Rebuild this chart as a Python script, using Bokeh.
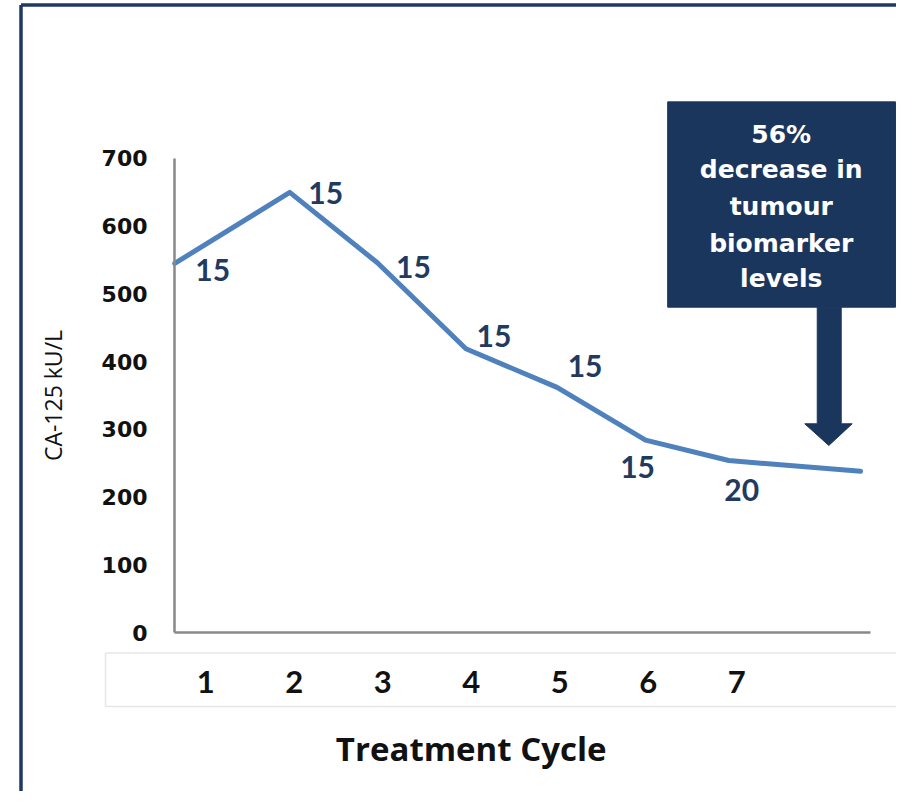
from bokeh.plotting import figure
from bokeh.models import Range1d, FixedTicker
from bokeh.core.properties import value
from bokeh.embed import file_html
from bokeh.resources import INLINE

# ---- data ----
cycle_ticks = [1, 2, 3, 4, 5, 6, 7]
cycle_tick_labels = ["1", "2", "3", "4", "5", "6", "7"]
cycle_pos = [0.65, 1.95, 2.94, 3.94, 4.97, 5.97, 6.91, 8.40]
ca125 = [545, 650, 546, 419, 362, 284, 254, 238]
dose_labels = ["15", "15", "15", "15", "15", "15", "20"]
y_ticks = [0, 100, 200, 300, 400, 500, 600, 700]

# ---- layout / style ----
label_dx = [38, 36, 36, 28, 28, -8, 13]
label_dy = [7, 1, 4, -13, -21, 27, 29]

callout_lines = ["56%", "decrease in", "tumour", "biomarker", "levels"]
callout_box = dict(left=6.22, right=8.794, bottom=480.4, top=783.6)
arrow_xs = [7.910, 8.181, 8.181, 8.305, 8.041, 7.769, 7.910]
arrow_ys = [480.4, 480.4, 308.2, 308.2, 276.2, 308.2, 308.2]
callout_text_x = 7.503
callout_text_y = [735.0, 683.3, 629.1, 574.0, 522.4]

NAVY = "#1B365D"
LABEL_NAVY = "#213A5E"
LINE_BLUE = "#4F81BD"
AXIS_GREY = "#888888"

X_AXIS_START = 0.6475
X_AXIS_END = 8.512

p = figure(width=896, height=791,
           x_range=Range1d(-1.3186, 8.8056), y_range=Range1d(-234.8, 933.3),
           output_backend="svg", toolbar_location=None,
           min_border=0, min_border_left=0, min_border_right=0,
           min_border_top=0, min_border_bottom=0)
p.outline_line_color = None
p.grid.visible = False
p.background_fill_color = "white"
p.border_fill_color = "white"

# y axis
ya = p.yaxis[0]
ya.fixed_location = X_AXIS_START
ya.bounds = (0, 700)
ya.ticker = FixedTicker(ticks=y_ticks)
ya.axis_line_color = AXIS_GREY
ya.axis_line_width = 2.5
ya.major_tick_line_color = None
ya.minor_tick_line_color = None
ya.major_tick_out = 0
ya.major_tick_in = 0
ya.major_label_standoff = 27
ya.major_label_text_font = "DejaVu Sans"
ya.major_label_text_font_style = "bold"
ya.major_label_text_font_size = "22px"
ya.major_label_text_color = "#111111"
ya.axis_label = "CA-125 kU/L"
ya.axis_label_text_font = "Open Sans"
ya.axis_label_text_font_style = "normal"
ya.axis_label_text_font_size = "23px"
ya.axis_label_text_color = "#111111"
ya.axis_label_standoff = 30

# x axis
xa = p.xaxis[0]
xa.fixed_location = 0
xa.bounds = (X_AXIS_START, X_AXIS_END)
xa.ticker = FixedTicker(ticks=cycle_ticks)
xa.major_label_overrides = {t: s for t, s in zip(cycle_ticks, cycle_tick_labels)}
xa.axis_line_color = AXIS_GREY
xa.axis_line_width = 2.5
xa.major_tick_line_color = None
xa.minor_tick_line_color = None
xa.major_tick_out = 0
xa.major_tick_in = 0
xa.major_label_standoff = 38
xa.major_label_text_font = "Lato"
xa.major_label_text_font_style = "bold"
xa.major_label_text_font_size = "31px"
xa.major_label_text_color = "#111111"

# outer frame of the slide (left and top edges only)
p.segment(x0=[-1.087, -1.087], y0=[926.7, 926.7], x1=[-1.087, 8.9], y1=[-240, 926.7],
          line_color="#1F3864", line_width=3.5)
# faint box round the category labels (open to the right)
p.segment(x0=[-0.132, -0.132, -0.132], y0=[-30.3, -109.3, -30.3],
          x1=[8.9, 8.9, -0.132], y1=[-30.3, -109.3, -109.3],
          line_color="#e6e6e6", line_width=1.5)

# series line
p.line(cycle_pos, ca125, line_color=LINE_BLUE, line_width=5,
       line_join="round", line_cap="round")

# data labels
p.text(x=cycle_pos[:len(dose_labels)], y=ca125[:len(dose_labels)], text=dose_labels,
       x_offset=label_dx, y_offset=label_dy,
       text_font=value("Lato"), text_font_style="bold", text_font_size="30px",
       text_color=LABEL_NAVY, text_align="center", text_baseline="middle")

# callout box + arrow
p.quad(left=[callout_box["left"]], right=[callout_box["right"]],
       bottom=[callout_box["bottom"]], top=[callout_box["top"]],
       fill_color=NAVY, line_color=NAVY)
p.patch(arrow_xs, arrow_ys, fill_color=NAVY, line_color=NAVY)
p.text(x=[callout_text_x] * len(callout_lines), y=callout_text_y, text=callout_lines,
       text_font=value("DejaVu Sans"), text_font_style="bold", text_font_size="25px",
       text_color="white", text_align="center", text_baseline="alphabetic")

# x axis title
p.text(x=[4.0], y=[-171.3], text=["Treatment Cycle"],
       text_font=value("Open Sans"), text_font_style="bold",
       text_font_size="33px", text_color="#111111",
       text_align="center", text_baseline="alphabetic")

open("out.html", "w").write(file_html(p, INLINE))
